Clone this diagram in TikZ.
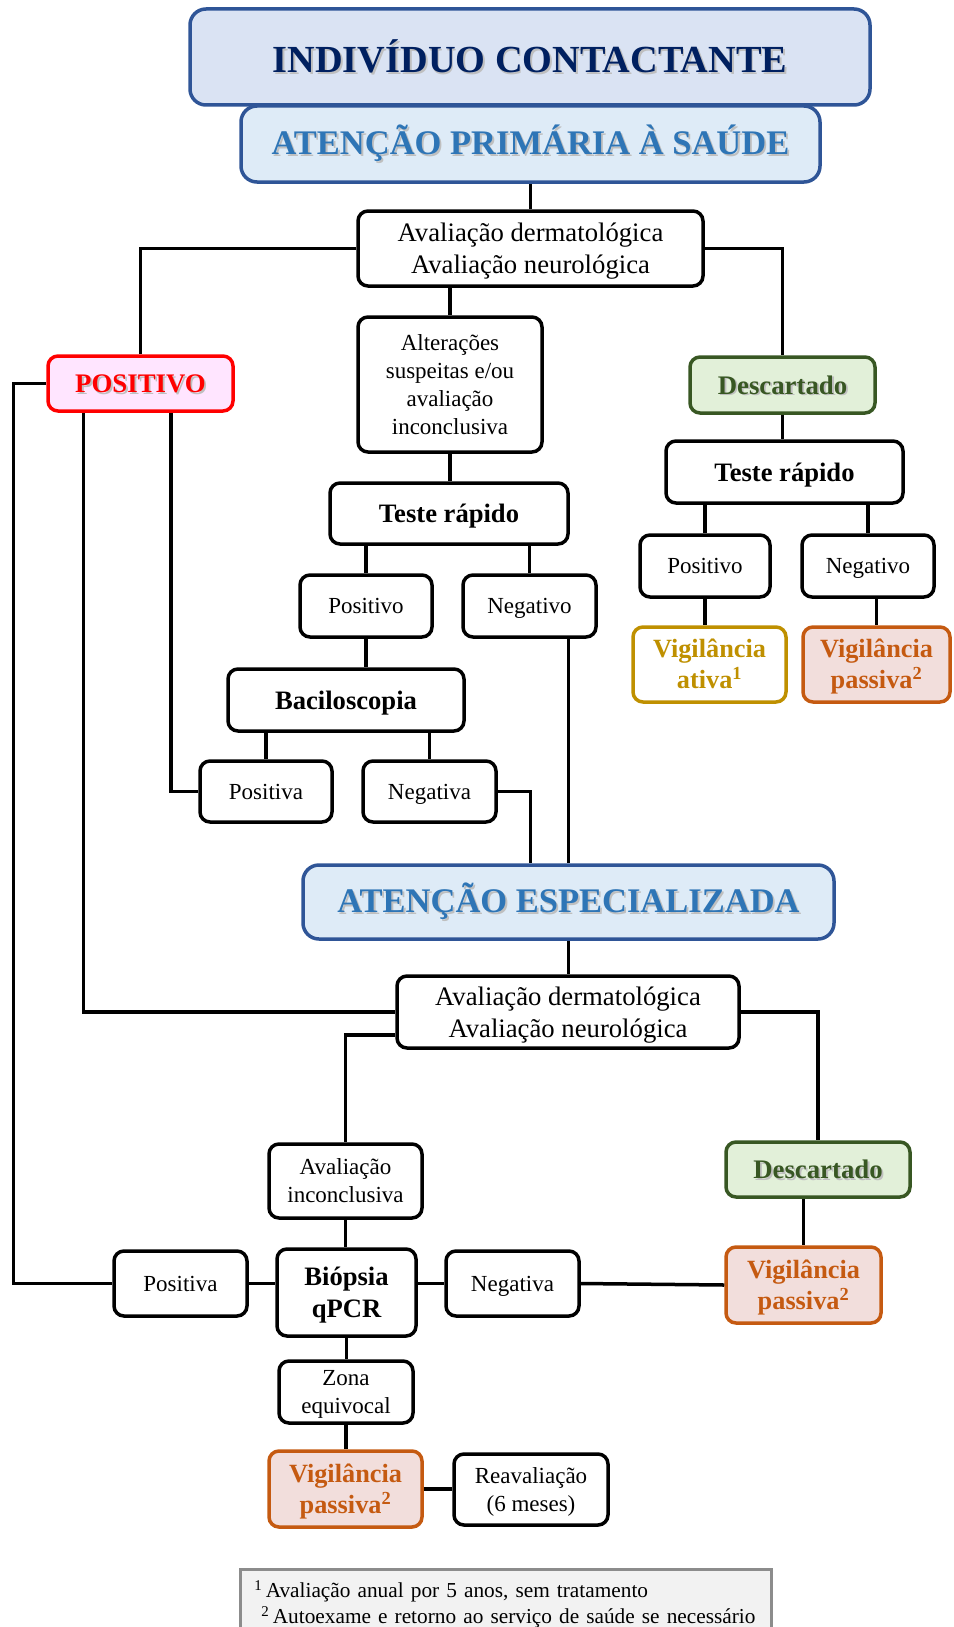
\documentclass[tikz,border=0pt]{standalone}
\usepackage{fontspec}
\setmainfont{Liberation Serif}
\usepackage{xcolor}
\usepackage{tikz}

\definecolor{titlenavy}{HTML}{002060}
\definecolor{titleline}{HTML}{2F5597}
\definecolor{titlefill}{HTML}{DAE3F3}
\definecolor{subblue}{HTML}{2E75B6}
\definecolor{subfill}{HTML}{DEEBF7}
\definecolor{posred}{HTML}{FF0000}
\definecolor{posfill}{HTML}{FFE5FF}
\definecolor{discgreen}{HTML}{385723}
\definecolor{discfill}{HTML}{E2F0D9}
\definecolor{vigactgold}{HTML}{BF9000}
\definecolor{vigpassorange}{HTML}{C55A11}
\definecolor{vigpassfill}{HTML}{F2DEDC}
\definecolor{footfill}{HTML}{F2F2F2}
\definecolor{footline}{HTML}{8C8C8C}

\newcommand{\shadowtext}[1]{\makebox[0pt][l]{\hspace{1.8pt}\raisebox{-1.8pt}{\textcolor{black!25}{#1}}}#1}

\begin{document}
\begin{tikzpicture}[x=1pt, y=-1pt,
    link/.style={line width=3.5pt, black},
    box/.style={draw=black, line width=3.5pt, rounded corners=10pt, fill=white, inner sep=0pt, align=center, font=\fontsize{23}{28}\selectfont, text height=20.5pt, text depth=5pt},
    evalbox/.style={box, font=\fontsize{26.7}{32}\selectfont, text height=55.8pt, text depth=5.8pt},
    testbox/.style={box, font=\bfseries\fontsize{26.6}{32}\selectfont, text height=23.7pt, text depth=5.7pt},
    headbox/.style={draw=titleline, line width=3.5pt, rounded corners=16pt, fill=titlefill, inner sep=0pt, text=titlenavy, font=\bfseries\fontsize{38.3}{44}\selectfont},
    levelbox/.style={headbox, fill=subfill, text=subblue, font=\bfseries\fontsize{34.5}{40}\selectfont},
    positivebox/.style={box, draw=posred, fill=posfill, text=posred, font=\bfseries\fontsize{26.8}{32}\selectfont, text height=23.9pt, text depth=5.8pt},
    discardbox/.style={positivebox, draw=discgreen, fill=discfill, text=discgreen},
    activebox/.style={box, draw=vigactgold, text=vigactgold, font=\bfseries\fontsize{26.3}{31}\selectfont, text height=54.4pt, text depth=5.7pt},
    passivebox/.style={activebox, draw=vigpassorange, fill=vigpassfill, text=vigpassorange}]
  \useasboundingbox (0,0) rectangle (953,1627);
  \clip (0,0) rectangle (953,1627);

  % atencao primaria
  \node[headbox, minimum width=680pt, minimum height=96pt] (indiv) at (530,57) {\shadowtext{INDIVÍDUO CONTACTANTE}};
  \node[levelbox, minimum width=579pt, minimum height=76pt] (prim) at (530.5,144) {\shadowtext{ATENÇÃO PRIMÁRIA À SAÚDE}};
  \node[evalbox, minimum width=345pt, minimum height=75pt] (aval1) at (530.5,248.5) {Avaliação dermatológica\\Avaliação neurológica};
  \node[positivebox, minimum width=185pt, minimum height=55pt] (positivo) at (140.5,383.5) {\shadowtext{POSITIVO}};
  \node[box, text height=104.5pt, minimum width=184pt, minimum height=135pt] (alter) at (450,384.5) {Alterações\\suspeitas e/ou\\avaliação\\inconclusiva};
  \node[discardbox, minimum width=185pt, minimum height=56pt] (descart1) at (782.5,385) {\shadowtext{Descartado}};

  \node[testbox, minimum width=238pt, minimum height=61pt] (teste1) at (449,513.5) {Teste rápido};
  \node[box, minimum width=132pt, minimum height=62pt] (posM) at (366,606) {Positivo};
  \node[box, minimum width=133pt, minimum height=62pt] (negM) at (529.5,606) {Negativo};
  \node[testbox, minimum width=236pt, minimum height=62pt] (bacil) at (346,700) {Baciloscopia};
  \node[box, minimum width=132pt, minimum height=61pt] (posaM) at (266,791.5) {Positiva};
  \node[box, minimum width=133pt, minimum height=61pt] (negaM) at (429.5,791.5) {Negativa};

  \node[testbox, minimum width=237pt, minimum height=62pt] (teste2) at (784.5,472) {Teste rápido};
  \node[box, minimum width=130pt, minimum height=62pt] (posR) at (705,566) {Positivo};
  \node[box, minimum width=132pt, minimum height=62pt] (negR) at (868,566) {Negativo};
  \node[activebox, minimum width=153pt, minimum height=75pt] (vigA) at (709.5,664.5) {Vigilância\\ativa\textsuperscript{1}};
  \node[passivebox, minimum width=147pt, minimum height=75pt] (vigP1) at (876.5,664.5) {Vigilância\\passiva\textsuperscript{2}};

  % atencao especializada
  \node[levelbox, minimum width=531pt, minimum height=74pt] (espec) at (568.5,902) {\shadowtext{ATENÇÃO ESPECIALIZADA}};
  \node[evalbox, minimum width=342pt, minimum height=72pt] (aval2) at (568,1012) {Avaliação dermatológica\\Avaliação neurológica};
  \node[box, text height=48.5pt, minimum width=153pt, minimum height=74pt] (inconc) at (345.5,1181) {Avaliação\\inconclusiva};
  \node[discardbox, minimum width=184pt, minimum height=55pt] (descart2) at (818,1169.5) {\shadowtext{Descartado}};
  \node[box, minimum width=133pt, minimum height=65pt] (posaB) at (180.5,1283.5) {Positiva};
  \node[testbox, text height=55.7pt, minimum width=139pt, minimum height=87pt] (biop) at (346.5,1292.5) {Biópsia\\qPCR};
  \node[box, minimum width=133pt, minimum height=65pt] (negaB) at (512.5,1283.5) {Negativa};
  \node[passivebox, minimum width=155pt, minimum height=76pt] (vigP2) at (803.5,1285) {Vigilância\\passiva\textsuperscript{2}};
  \node[box, text height=48.5pt, minimum width=134pt, minimum height=62pt] (zona) at (346,1392) {Zona\\equivocal};
  \node[passivebox, minimum width=153pt, minimum height=76pt] (vigP3) at (345.5,1489) {Vigilância\\passiva\textsuperscript{2}};
  \node[box, text height=48.5pt, minimum width=154pt, minimum height=71pt] (reav) at (531,1489.5) {Reavaliação\\(6 meses)};

  \node[draw=footline, line width=2.5pt, fill=footfill, anchor=north west, text width=503pt, inner xsep=14pt, inner ysep=11pt, align=left, font=\fontsize{21.3}{26}\selectfont] (foot) at (239,1568) {\textsuperscript{1}\,Avaliação anual por 5 anos, sem tratamento\\\ \textsuperscript{2}\,Autoexame e retorno ao serviço de saúde se necessário\\ \strut};

  % ligacoes
  \draw[link] (prim.south) -- (prim.south |- aval1.north);
  \draw[link] (aval1.west) -| (positivo.north);
  \draw[link] (aval1.east) -| (descart1.north);
  \draw[link] (alter.north |- aval1.south) -- (alter.north);
  \draw[link] (alter.south) -- (alter.south |- teste1.north);
  \draw[link] (posM.north |- teste1.south) -- (posM.north);
  \draw[link] (negM.north |- teste1.south) -- (negM.north);
  \draw[link] (posM.south) -- (posM.south |- bacil.north);
  \draw[link] (posaM.north |- bacil.south) -- (posaM.north);
  \draw[link] (negaM.north |- bacil.south) -- (negaM.north);
  \draw[link] ([xshift=30.5pt]positivo.south) |- (posaM.west);
  \draw[link] ([xshift=-57pt]positivo.south) |- (aval2.west);
  \draw[link] (positivo.west) -| ([xshift=-99pt]posaB.west) -- (posaB.west);
  \draw[link] (negaM.east) -| ([xshift=-38pt]espec.north);
  \draw[link] (negM.south -| espec.north) -- (espec.north);
  \draw[link] (descart1.south) -- (descart1.south |- teste2.north);
  \draw[link] (posR.north |- teste2.south) -- (posR.north);
  \draw[link] (negR.north |- teste2.south) -- (negR.north);
  \draw[link] (posR.south) -- (posR.south |- vigA.north);
  \draw[link] (vigP1.north |- negR.south) -- (vigP1.north);
  \draw[link] (espec.south) -- (espec.south |- aval2.north);
  \draw[link] ([yshift=-23pt]aval2.west) -| (inconc.north);
  \draw[link] (aval2.east) -| (descart2.north);
  \draw[link] (inconc.south) -- (inconc.south |- biop.north);
  \draw[link] (posaB.east) -- (posaB.east -| biop.west);
  \draw[link] (negaB.west -| biop.east) -- (negaB.west);
  \draw[link] (negaB.east) -- (vigP2.west);
  \draw[link] (vigP2.north |- descart2.south) -- (vigP2.north);
  \draw[link] (biop.south) -- (biop.south |- zona.north);
  \draw[link] (zona.south) -- (zona.south |- vigP3.north);
  \draw[link] (vigP3.east) -- (vigP3.east -| reav.west);
\end{tikzpicture}
\end{document}
